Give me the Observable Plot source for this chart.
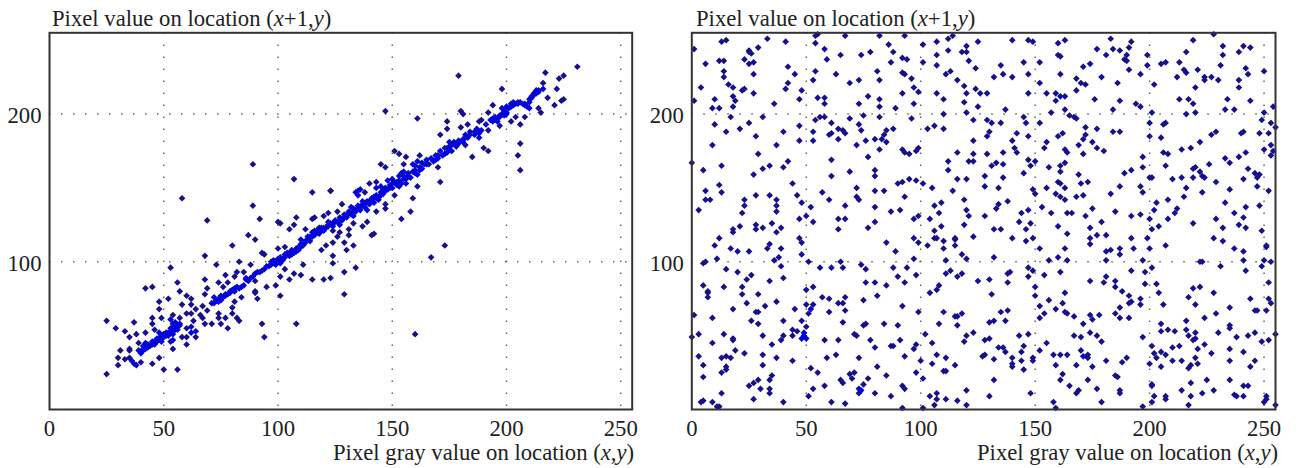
<!DOCTYPE html>
<html><head><meta charset="utf-8">
<script src="https://cdn.jsdelivr.net/npm/d3@7"></script>
<script src="https://cdn.jsdelivr.net/npm/@observablehq/plot@0.6"></script>
<style>
html,body{margin:0;padding:0;background:#fff;}
#page{position:relative;width:1307px;height:468px;overflow:hidden;font-family:"Liberation Serif",serif;color:#222;}
#page svg{position:absolute;top:0;overflow:visible;background:transparent;}
.lab{position:absolute;font-size:22.7px;line-height:24px;white-space:nowrap;}
</style></head><body><div id="page"></div>
<script>
const xTicks = [0,50,100,150,200,250];
const yTicks = [100,200];
const gridX = [50,100,150,200,250];
const yTitle = ["Pixel value on location (","x","+1,","y",")"];
const xTitle = ["Pixel gray value on location (","x",",","y",")"];

const leftPoints = [
[89,166],[107,156],[115,147],[58,143],[89,138],[69,128],[92,129],[100,127],[101,126],[108,130],[115,129],[116,130],[120,131],[122,133],[123,148],[107,125],[105,122],[112,122],[115,120],[117,120],[119,121],[120,123],[122,125],
[231,232],[217,228],[225,226],[223,224],[179,226],[216,221],[198,217],[222,217],[213,216],[212,214],[214,216],[216,217],[210,210],[211,211],[218,211],[225,210],[224,209],[221,206],[208,207],[205,208],[203,208],[202,207],[210,204],[214,204],[215,201],[194,206],[147,202],[180,202],[181,200],[192,201],[198,204],[200,205],[161,197],[174,195],[174,190],[180,191],[183,193],[171,186],[189,196],[188,195],[191,193],[192,189],[194,197],[196,195],[197,192],[197,198],[199,199],[200,200],[204,198],[202,195],[206,193],[208,198],[187,188],[186,186],[188,184],[182,186],[184,188],[182,179],[181,181],[179,180],[190,177],[192,175],[185,171],[206,180],[205,172],[206,162],
[175,181],[174,177],[176,175],[173,173],[170,172],[169,169],[178,178],[151,175],[153,173],[156,171],[162,172],[161,168],[159,166],[165,169],[166,166],[145,166],[147,164],[155,166],[170,164],[171,154],[162,162],[160,160],[157,158],[155,156],[152,154],[150,153],[148,155],[154,160],[161,151],[140,153],[143,154],[145,151],[143,150],[151,145],[159,143],[135,148],[134,147],[136,149],[138,147],[135,145],[123,148],[128,139],
[145,145],[143,143],[140,141],[138,139],[136,137],[134,135],[131,133],[129,130],[127,128],[124,126],[147,139],[147,136],[143,134],[139,135],[158,134],[154,129],[126,134],[132,137],[139,127],[137,124],[133,126],[142,119],[131,122],[127,120],[124,121],[149,150],[147,148],[153,151],[156,153],[125,127],[128,129],[130,131],[133,134],[135,136],[137,138],[141,142],[144,144],
[173,111],[167,103],[160,51],[134,96],[129,93],[129,78],[133,111],[130,108],[129,113],[124,113],[126,117],[131,118],[141,118],[124,104],[124,99],[123,89],
[25,24],[25,60],[29,55],[33,53],[37,59],[35,49],[38,51],[42,52],[31,40],[30,35],[30,30],[33,34],[35,35],[36,33],[38,30],[37,31],[40,32],[35,41],[35,40],[45,31],[50,27],[48,35],[56,27],[39,40],[41,43],[42,45],[39,45],[43,44],[45,45],[46,44],[47,47],[49,46],[48,52],[46,54],[50,51],[52,50],[54,51],[54,47],[53,46],[45,62],[45,58],[49,62],[48,68],[48,73],[52,75],[53,96],[42,82],[45,83],[56,86],[57,80],[58,71],[60,77],[62,75],[62,71],[54,64],[53,61],[57,62],[55,59],[57,58],[54,55],[56,54],[60,65],[62,65],[64,68],[66,64],[67,62],[67,70],[63,60],[62,56],[60,55],[64,53],[62,52],[58,49],[60,49],[64,49],[60,44],[54,41],[68,58],[71,58],[69,67],[71,72],[68,78],[69,82],[68,88],[74,86],[78,86],[76,83],[73,98],[68,104],[80,111],[87,118],[90,115],[93,106],[94,105],[83,100],[77,91],[82,93],[81,90],[85,93],[88,98],
[74,73],[72,76],[75,77],[77,78],[79,80],[81,82],[84,83],[87,87],[89,90],[91,93],[94,95],[96,97],[98,99],[100,102],[103,103],[105,104],[107,106],[109,108],[111,112],[113,115],[115,117],[99,100],[101,99],[97,100],[102,101],[104,106],[106,105],[108,109],[110,110],[112,113],[114,114],[116,118],[74,65],[74,62],[75,58],[78,55],[77,62],[80,65],[80,69],[81,73],[82,62],[83,60],[84,76],[90,80],[90,79],[91,75],[95,83],[99,84],[101,77],[93,58],[94,49],[108,58],[103,95],[101,90],[107,92],[110,91],[105,88],[115,88],[120,88],[111,98],[100,109],[103,110],[119,108],[121,111],[86,89],[90,87],
[40,38],[41,40],[42,41],[43,42],[44,43],[45,44],[46,46],[47,46],[48,48],[49,48],[50,49],[51,50],[41,41],[43,44],[45,46],[47,48],[49,50],[51,52],[52,52],[53,53],[54,53],[55,54],[56,56],[55,57],[53,55],[57,57],[54,58],
[72,72],[73,74],[74,75],[75,74],[76,76],[77,77],[78,78],[79,79],[80,81],[81,80],[82,83],[83,82],[85,84],
[86,88],[88,89],[90,92],[92,93],[93,94],[95,97],[97,98],[98,101],[99,98],[100,101],[101,103],[102,102],[103,105],[105,106],[106,108],[108,107],[109,110],[110,112],[111,111],[112,114],[113,117],[114,117],[116,119],[117,121],[118,119],[119,123],[120,121],[121,123],[122,124],[123,126],[124,124],[125,128],[126,127],[127,130],[128,128],[129,132],[130,130],[131,134],[132,132],[133,136],[134,134],[135,138],[136,135],[137,139],[138,137],[139,141],[140,139],[141,143],[142,140],[143,145],[144,142],[145,147],[146,146],[147,150],[148,149],[149,152],[150,150],[151,154],[152,152],[153,155],[154,153],[155,158],[156,156],[157,160],[158,157],[159,161],[160,162],[161,159],[162,164],[163,163],[164,166],[165,166],
[167,170],[168,168],[169,172],[170,170],[171,175],[172,172],[173,177],[174,174],[175,178],[176,179],[177,181],[178,180],[179,182],[181,183],[182,184],[183,184],[184,186],[186,188],[187,190],[188,187],[189,189],
[193,196],[194,195],[195,198],[196,197],[197,199],[198,200],[199,202],[200,201],[201,204],[202,205],[203,206],[204,207],[205,207],[206,208],[207,207],[208,206],[209,205],[210,208],[211,212],[212,213],[213,214],[214,215],
[118,123],[122,127],[127,125],[133,131],[137,141],[150,156],[153,158],[160,165],[175,176],[110,115],[116,121],[142,144],[146,149],[155,161],[163,167]
];

const rightPoints = [
[1,244],[6,234],[13,249],[15,250],[33,251],[41,249],[25,243],[26,241],[25,242],[29,245],[12,236],[14,236],[23,237],[25,234],[27,235],[14,229],[14,225],[4,218],[27,227],[16,220],[18,218],[22,216],[23,217],[27,214],[1,209],[10,210],[18,212],[19,209],[18,205],[9,204],[12,204],[36,207],[17,198],[31,198],[10,193],[25,194],[21,190],[15,188],[28,185],[9,179],[37,179],[29,173],[0,167],[13,165],[5,162],[31,163],[34,165],[40,164],[42,168],[27,159],[44,153],[12,152],[6,148],[13,147],[6,142],[8,142],[3,135],[28,145],[34,145],[23,142],[23,138],[37,142],[37,138],[37,134],[22,133],[46,145],[48,140],[52,137],[47,129],[50,131],[53,127],[18,122],[21,124],[28,125],[28,122],[31,123],[35,126],[39,123],[37,120],[18,120],
[42,232],[45,227],[42,221],[41,217],[48,216],[47,210],[53,223],[54,229],[54,248],[58,244],[59,237],[65,240],[55,254],[54,253],[67,253],[74,240],[78,242],[82,253],[86,247],[88,242],[87,235],[92,238],[94,237],[93,253],[101,247],[101,235],[107,249],[107,240],[107,233],[112,251],[114,253],[112,243],[118,242],[120,242],[121,236],[120,246],[125,249],[124,231],[113,229],[111,227],[116,223],[119,219],[120,214],[124,217],[126,214],[129,214],[81,229],[82,223],[92,228],[93,227],[96,224],[69,221],[73,223],[63,227],[97,218],[99,215],[92,214],[107,214],[110,210],[77,212],[82,210],[82,205],[73,207],[89,204],[97,207],[55,211],[58,211],[58,207],[119,208],[120,201],[125,205],[110,200],[129,196],[123,196],[96,197],[82,198],[75,199],[69,197],[58,198],[56,198],[54,196],[47,192],[53,188],[61,194],[61,187],[60,186],[64,190],[66,189],[67,187],[64,183],[73,193],[74,189],[88,190],[85,189],[84,186],[83,183],[80,183],[76,182],[72,179],[85,181],[82,176],[103,190],[106,192],[110,190],[40,188],[47,182],[53,182],[129,185],[130,188],[123,182],[116,174],[123,173],[129,173],[112,168],[121,168],[123,168],[112,162],[61,169],[61,158],[69,161],[77,171],[80,162],[80,158],[92,176],[93,174],[95,173],[98,175],[99,177],[90,153],[92,154],[95,156],[98,155],[101,153],[105,150],[114,148],[116,156],[120,156],[128,158],[128,151],[72,150],[72,144],[73,142],[80,148],[84,148],[57,147],[60,142],[93,144],[67,138],[80,137],[87,134],[91,135],[97,129],[99,131],[104,129],[108,133],[106,138],[109,140],[119,142],[120,135],[121,131],[128,131],[109,124],[119,125],[106,121],[64,129],[67,129],[80,127],[64,122],[77,123],
[12,116],[10,111],[17,109],[20,107],[25,107],[34,112],[33,109],[39,109],[47,116],[48,113],[48,105],[11,102],[5,99],[6,100],[38,103],[36,101],[39,97],[15,95],[20,93],[26,91],[24,88],[34,87],[40,89],[5,84],[7,80],[7,79],[7,76],[14,83],[22,83],[22,78],[29,78],[24,72],[32,70],[37,73],[18,68],[1,64],[9,62],[28,66],[29,66],[26,60],[29,58],[40,60],[45,68],[50,81],[53,83],[50,71],[51,65],[52,68],[53,71],[48,60],[50,56],[3,51],[0,49],[14,51],[9,45],[18,48],[18,47],[31,50],[35,44],[39,47],[40,50],[44,54],[46,53],[44,50],[49,52],[49,50],[48,48],[50,48],[19,40],[23,38],[31,37],[37,35],[44,33],[3,36],[5,30],[13,35],[15,36],[17,35],[15,29],[15,27],[13,25],[5,22],[31,30],[35,23],[34,20],[29,20],[25,16],[27,18],[30,14],[34,14],[34,11],[13,11],[27,7],[5,6],[4,5],[9,5],[11,2],[12,2],[40,5],
[51,100],[56,96],[61,96],[65,100],[66,96],[74,98],[76,95],[88,96],[94,96],[90,90],[93,86],[98,91],[97,102],[89,107],[85,113],[97,116],[99,113],[103,111],[106,116],[107,116],[110,114],[110,109],[115,116],[115,115],[115,111],[123,117],[118,105],[120,102],[111,101],[113,94],[111,92],[116,90],[118,92],[125,87],[130,88],[76,86],[80,86],[85,84],[81,77],[108,84],[107,81],[104,79],[57,76],[60,75],[67,76],[64,72],[66,72],[75,74],[92,70],[60,66],[67,67],[99,66],[110,66],[115,63],[116,63],[118,65],[66,59],[75,57],[76,58],[84,58],[90,57],[108,58],[116,57],[130,59],[71,51],[72,50],[58,47],[64,47],[78,47],[80,42],[87,43],[88,43],[91,47],[98,44],[97,41],[102,51],[105,45],[120,50],[119,46],[123,52],[128,47],[130,48],[59,35],[63,37],[73,35],[93,36],[107,37],[111,35],[127,36],[128,37],[100,33],[105,31],[115,30],[52,28],[55,25],[81,29],[98,25],[110,26],[111,26],[69,24],[71,25],[70,21],[77,21],[85,23],[101,21],[65,20],[66,18],[75,17],[73,14],[74,13],[92,16],[93,14],[58,16],[53,14],[73,11],[80,11],[87,9],[51,9],[61,5],[67,4],[120,13],[107,11],[104,9],[107,7],[111,7],[116,6],[106,3],[120,3],[130,9],[92,1],[101,1],
[140,250],[147,250],[149,249],[160,248],[163,250],[183,251],[192,249],[219,250],[228,254],[232,246],[241,246],[244,245],[177,244],[184,244],[187,243],[191,245],[216,242],[239,242],[232,240],[181,240],[190,240],[199,240],[160,240],[161,239],[189,237],[190,236],[145,235],[152,235],[135,233],[171,232],[174,234],[199,233],[205,234],[207,235],[213,235],[231,233],[191,230],[221,230],[242,231],[250,229],[215,230],[216,228],[196,227],[132,225],[136,227],[140,225],[147,227],[161,227],[243,227],[179,225],[212,225],[224,225],[227,225],[224,223],[230,223],[239,223],[168,224],[152,221],[170,221],[172,220],[186,221],[202,220],[220,218],[239,218],[168,216],[147,214],[155,214],[159,214],[161,212],[163,212],[159,209],[176,210],[187,209],[213,210],[217,210],[219,207],[234,210],[244,209],[194,207],[196,205],[254,205],[163,203],[184,203],[137,203],[201,201],[220,201],[216,200],[233,203],[237,203],[250,201],[157,201],[165,199],[167,198],[168,197],[145,198],[249,196],[253,194],[255,191],[207,194],[206,193],[200,194],[131,194],[135,194],[146,194],[152,194],[172,191],[177,190],[142,187],[147,185],[162,187],[160,185],[172,186],[171,183],[184,188],[187,188],[200,185],[205,184],[229,188],[227,186],[222,181],[218,177],[214,176],[240,187],[241,188],[248,187],[252,187],[253,179],[250,176],[254,175],[253,172],[140,182],[155,181],[175,181],[177,177],[169,179],[141,177],[142,174],[136,174],[154,177],[163,176],[164,174],[171,173],[180,175],[206,174],[208,173],[197,171],[242,174],[239,171],[233,170],[235,167],[133,167],[131,165],[136,166],[147,169],[148,165],[150,168],[156,164],[163,167],[161,165],[161,161],[197,164],[207,165],[219,163],[220,164],[226,166],[222,161],[243,163],[246,160],[248,159],[247,157],[145,160],[136,157],[169,159],[189,160],[192,162],[200,157],[201,157],[223,158],[224,157],[214,157],[210,156],[219,157],[229,154],[241,156],[160,154],[161,153],[163,150],[170,153],[173,154],[155,150],[134,150],[187,151],[196,151],[216,150],[235,149],[247,151],[252,148],[149,149],[150,146],[159,146],[183,146],[197,147],[223,147],[161,144],[163,142],[168,144],[171,145],[215,144],[208,142],[138,141],[203,140],[233,140],[248,138],[242,137],[134,139],[133,136],[153,137],[147,135],[175,136],[202,135],[212,136],[144,133],[157,133],[164,133],[166,133],[185,134],[172,131],[192,131],[196,132],[211,133],[237,133],[241,130],[200,129],[208,129],[143,127],[148,126],[179,127],[219,126],[229,129],[239,125],[160,124],[204,124],[174,123],[201,122],[132,122],[135,122],[146,122],[232,123],[242,123],[249,121],[164,119],
[140,116],[146,114],[149,116],[152,109],[163,109],[174,116],[174,112],[177,118],[181,118],[181,107],[183,108],[187,109],[187,105],[192,116],[199,116],[193,109],[200,109],[207,111],[228,116],[232,114],[237,109],[241,107],[251,110],[251,111],[132,103],[156,101],[160,103],[164,101],[181,101],[197,101],[222,100],[223,100],[241,101],[250,101],[253,100],[231,97],[249,97],[201,96],[147,96],[149,94],[138,92],[139,93],[147,90],[154,91],[161,93],[192,94],[198,93],[242,94],[181,90],[174,87],[185,87],[138,86],[180,86],[185,83],[198,85],[203,85],[219,82],[222,83],[252,86],[150,83],[163,79],[131,78],[188,80],[204,79],[228,79],[191,77],[150,77],[156,74],[196,75],[192,73],[191,72],[217,76],[244,75],[252,75],[253,72],[162,72],[196,71],[152,70],[206,71],[220,71],[235,69],[159,68],[154,65],[135,66],[138,67],[163,66],[164,65],[167,63],[174,64],[175,61],[178,64],[185,65],[187,69],[187,62],[191,62],[152,62],[246,67],[247,67],[251,67],[229,65],[224,62],[132,60],[137,60],[171,58],[216,60],[205,58],[235,57],[235,55],[208,54],[211,53],[216,54],[205,53],[220,52],[230,52],[143,50],[147,51],[167,50],[170,49],[174,52],[177,50],[179,46],[197,49],[217,50],[220,48],[219,47],[238,49],[243,50],[246,52],[249,46],[252,47],[255,51],[155,45],[145,43],[201,43],[210,42],[213,43],[224,44],[221,41],[235,41],[134,42],[136,42],[137,39],[144,39],[152,40],[170,40],[202,38],[205,39],[207,37],[227,38],[241,39],[158,37],[161,37],[164,37],[171,36],[173,37],[173,35],[149,35],[149,33],[132,34],[140,35],[144,33],[140,31],[140,29],[181,33],[188,32],[190,35],[203,35],[210,33],[214,33],[220,35],[200,31],[221,31],[235,33],[246,33],[218,30],[217,28],[205,29],[244,29],[159,30],[168,30],[175,29],[145,27],[162,24],[185,23],[186,22],[132,20],[161,20],[173,20],[218,18],[225,20],[235,20],[201,17],[201,16],[165,16],[241,16],[243,16],[177,14],[169,13],[168,11],[187,13],[187,11],[214,13],[223,11],[228,13],[148,11],[237,10],[238,9],[241,9],[202,9],[207,9],[207,7],[218,9],[251,9],[251,7],[250,5],[179,5],[158,5],[201,5],[197,2],[217,3],[159,1],[255,3]
];

// Clustered points read as a brighter blue in the reference than isolated ones.
function withClusters(points){
  return points.map(([x,y]) => {
    const n = points.filter(([a,b]) => Math.hypot(a-x,(b-y)*0.65) < 3).length - 1;
    return {x, y, clustered: n >= 3};
  });
}

function panel(points, width, marginLeft, marginRight){
  const data = withClusters(points);
  const sym = {x:"x", y:"y", symbol:"diamond2", r:3};
  return Plot.plot({
    width, height:468, marginLeft, marginRight, marginTop:32.3, marginBottom:59,
    style:{fontFamily:"Liberation Serif", fontSize:"22.7px", color:"#222", background:"transparent"},
    x:{domain:[0,255]}, y:{domain:[0,255]},
    marks:[
      Plot.ruleX(gridX,{y1:0,y2:255,stroke:"#666",strokeWidth:1.5,strokeDasharray:"1.5 10.5",strokeDashoffset:9}),
      Plot.ruleY(yTicks,{x1:0,x2:255,stroke:"#666",strokeWidth:1.5,strokeDasharray:"1.5 10.5"}),
      Plot.dot(data.filter(d=>!d.clustered),{...sym,fill:"#17108c"}),
      Plot.dot(data.filter(d=>d.clustered),{...sym,fill:"#0505d8"}),
      Plot.frame({stroke:"#333",strokeWidth:2}),
      Plot.axisX({ticks:xTicks,tickSize:0,tickPadding:10,label:null,fill:"#222",anchor:"bottom"}),
      Plot.axisY({ticks:yTicks,tickSize:0,tickPadding:8,label:null,fill:"#222",anchor:"left",dy:2})
    ]
  });
}

const page = document.getElementById("page");
const a = panel(leftPoints, 660, 49, 28.3); a.style.left="0px"; page.appendChild(a);
const b = panel(rightPoints, 667, 51.3, 32); b.style.left="640px"; page.appendChild(b);

function label(parts, left, top){
  const d = document.createElement("div"); d.className="lab";
  d.style.left=left+"px"; d.style.top=top+"px";
  parts.forEach((t,i)=>{ const e=document.createElement(i%2?"i":"span"); e.textContent=t; d.appendChild(e); });
  page.appendChild(d);
}
label(yTitle,52,7); label(yTitle,696,7);
label(xTitle,333,441); label(xTitle,977,441);
</script></body></html>
